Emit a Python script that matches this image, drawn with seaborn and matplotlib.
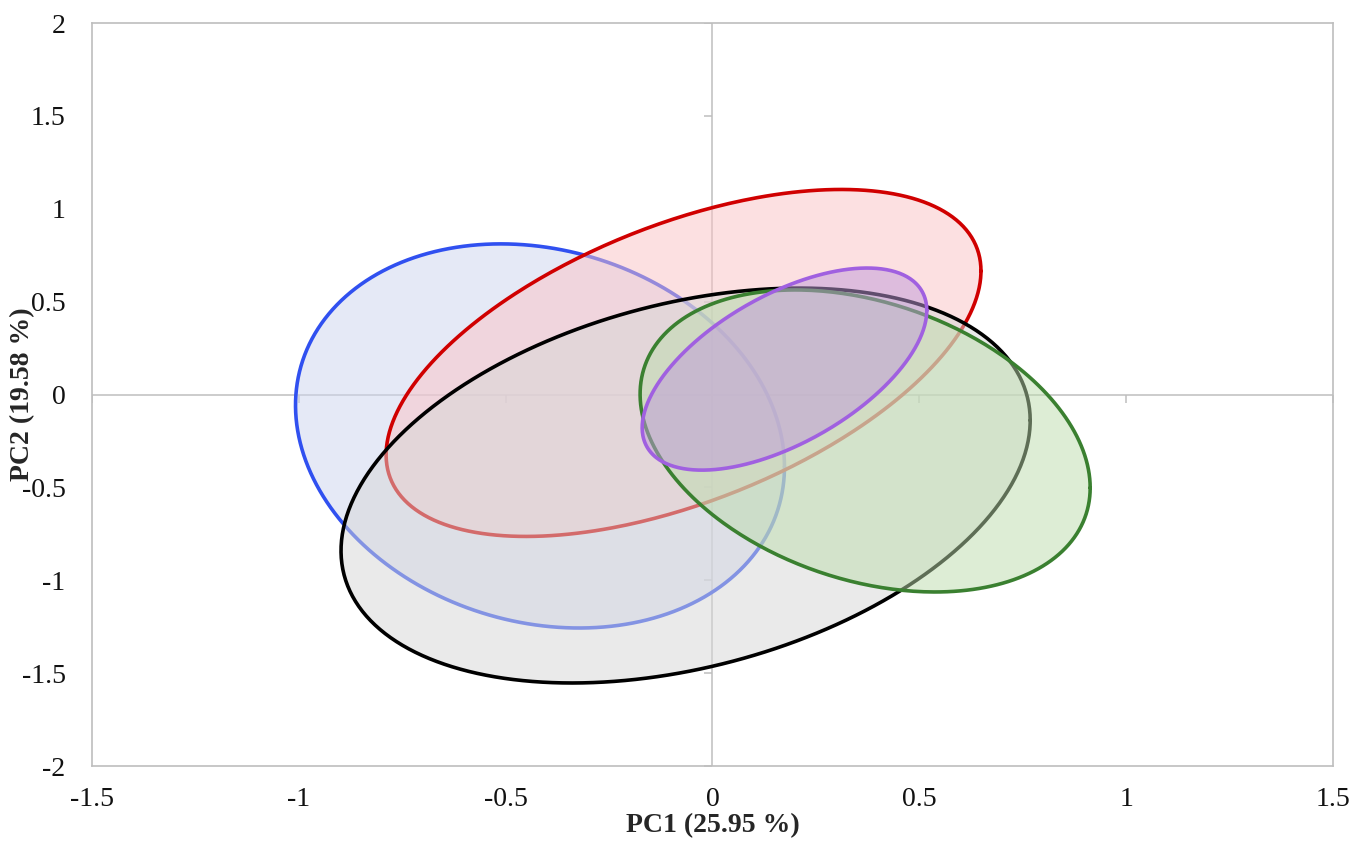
import numpy as np
import pandas as pd
import seaborn as sns
from matplotlib import pyplot as plt

# ellipse summary per group: centre, half extents along PC1/PC2, correlation
groups = ["G1", "G2", "G3", "G4", "G5"]
center_x = [-0.417, -0.070, -0.065, 0.369, 0.174]
center_y = [-0.223, 0.170, -0.490, -0.250, 0.137]
half_x = [0.591, 0.719, 0.833, 0.544, 0.344]
half_y = [1.034, 0.934, 1.063, 0.813, 0.544]
corr = [-0.16, 0.53, 0.33, -0.31, 0.58]

edge_colors = ["#3050F0", "#D00000", "#000000", "#3A8030", "#A060E0"]
fill_colors = ["#CDD5EF", "#FBC3C5", "#D7D7D7", "#BDDDAD", "#C09ADA"]

x_ticks = [-1.5, -1, -0.5, 0, 0.5, 1, 1.5]
y_ticks = [-2, -1.5, -1, -0.5, 0, 0.5, 1, 1.5, 2]
x_ticklabels = ["-1.5", "-1", "-0.5", "0", "0.5", "1", "1.5"]
y_ticklabels = ["-2", "-1.5", "-1", "-0.5", "0", "0.5", "1", "1.5", "2"]

sns.set_style("white")
plt.rcParams["font.family"] = ["Liberation Serif", "DejaVu Serif"]

# build outline points for each group
t = np.linspace(0, 2 * np.pi, 400)
rows = []
for g, cx, cy, sx, sy, r in zip(groups, center_x, center_y, half_x, half_y, corr):
    phi = np.arccos(r)
    rows.append(pd.DataFrame({"group": g,
                              "pc1": cx + sx * np.cos(t),
                              "pc2": cy + sy * np.cos(t - phi)}))
df = pd.concat(rows, ignore_index=True)

fig = plt.figure(figsize=(13.69, 8.44), dpi=100)
ax = fig.add_axes([0.0672, 0.0924, 0.9065, 0.8803])

# zero axes with small ticks
ax.axhline(0, color="#BEBEBE", lw=1.1, zorder=0.5)
ax.axvline(0, color="#BEBEBE", lw=1.1, zorder=0.5)
ax.plot(x_ticks, [0] * len(x_ticks), ls="none", marker=3, ms=6, mec="#BEBEBE", mew=1.1, zorder=0.5)
ax.plot([0] * len(y_ticks), y_ticks, ls="none", marker=0, ms=6, mec="#BEBEBE", mew=1.1, zorder=0.5)

for i, (g, ec, fc) in enumerate(zip(groups, edge_colors, fill_colors)):
    d = df[df.group == g]
    ax.fill(d.pc1, d.pc2, color=fc, alpha=0.5, lw=0, zorder=2 + 2 * i)
    sns.lineplot(data=d, x="pc1", y="pc2", sort=False, estimator=None,
                 color=ec, lw=2.6, ax=ax, zorder=3 + 2 * i)

ax.set_xlim(-1.5, 1.5)
ax.set_ylim(-2, 2)
ax.set_xticks(x_ticks)
ax.set_xticklabels(x_ticklabels)
ax.set_yticks(y_ticks)
ax.set_yticklabels(y_ticklabels)
ax.tick_params(length=0, labelsize=20, colors="#111111")
ax.tick_params(axis="x", pad=15)
ax.tick_params(axis="y", pad=19)
for s in ax.spines.values():
    s.set_color("#BEBEBE")
    s.set_linewidth(1.2)

ax.set_xlabel("PC1 (25.95 %)", fontsize=20, fontweight="bold", labelpad=1)
ax.set_ylabel("PC2 (19.58 %)", fontsize=20, fontweight="bold", labelpad=-10)

fig.savefig("out.png", dpi=100)
